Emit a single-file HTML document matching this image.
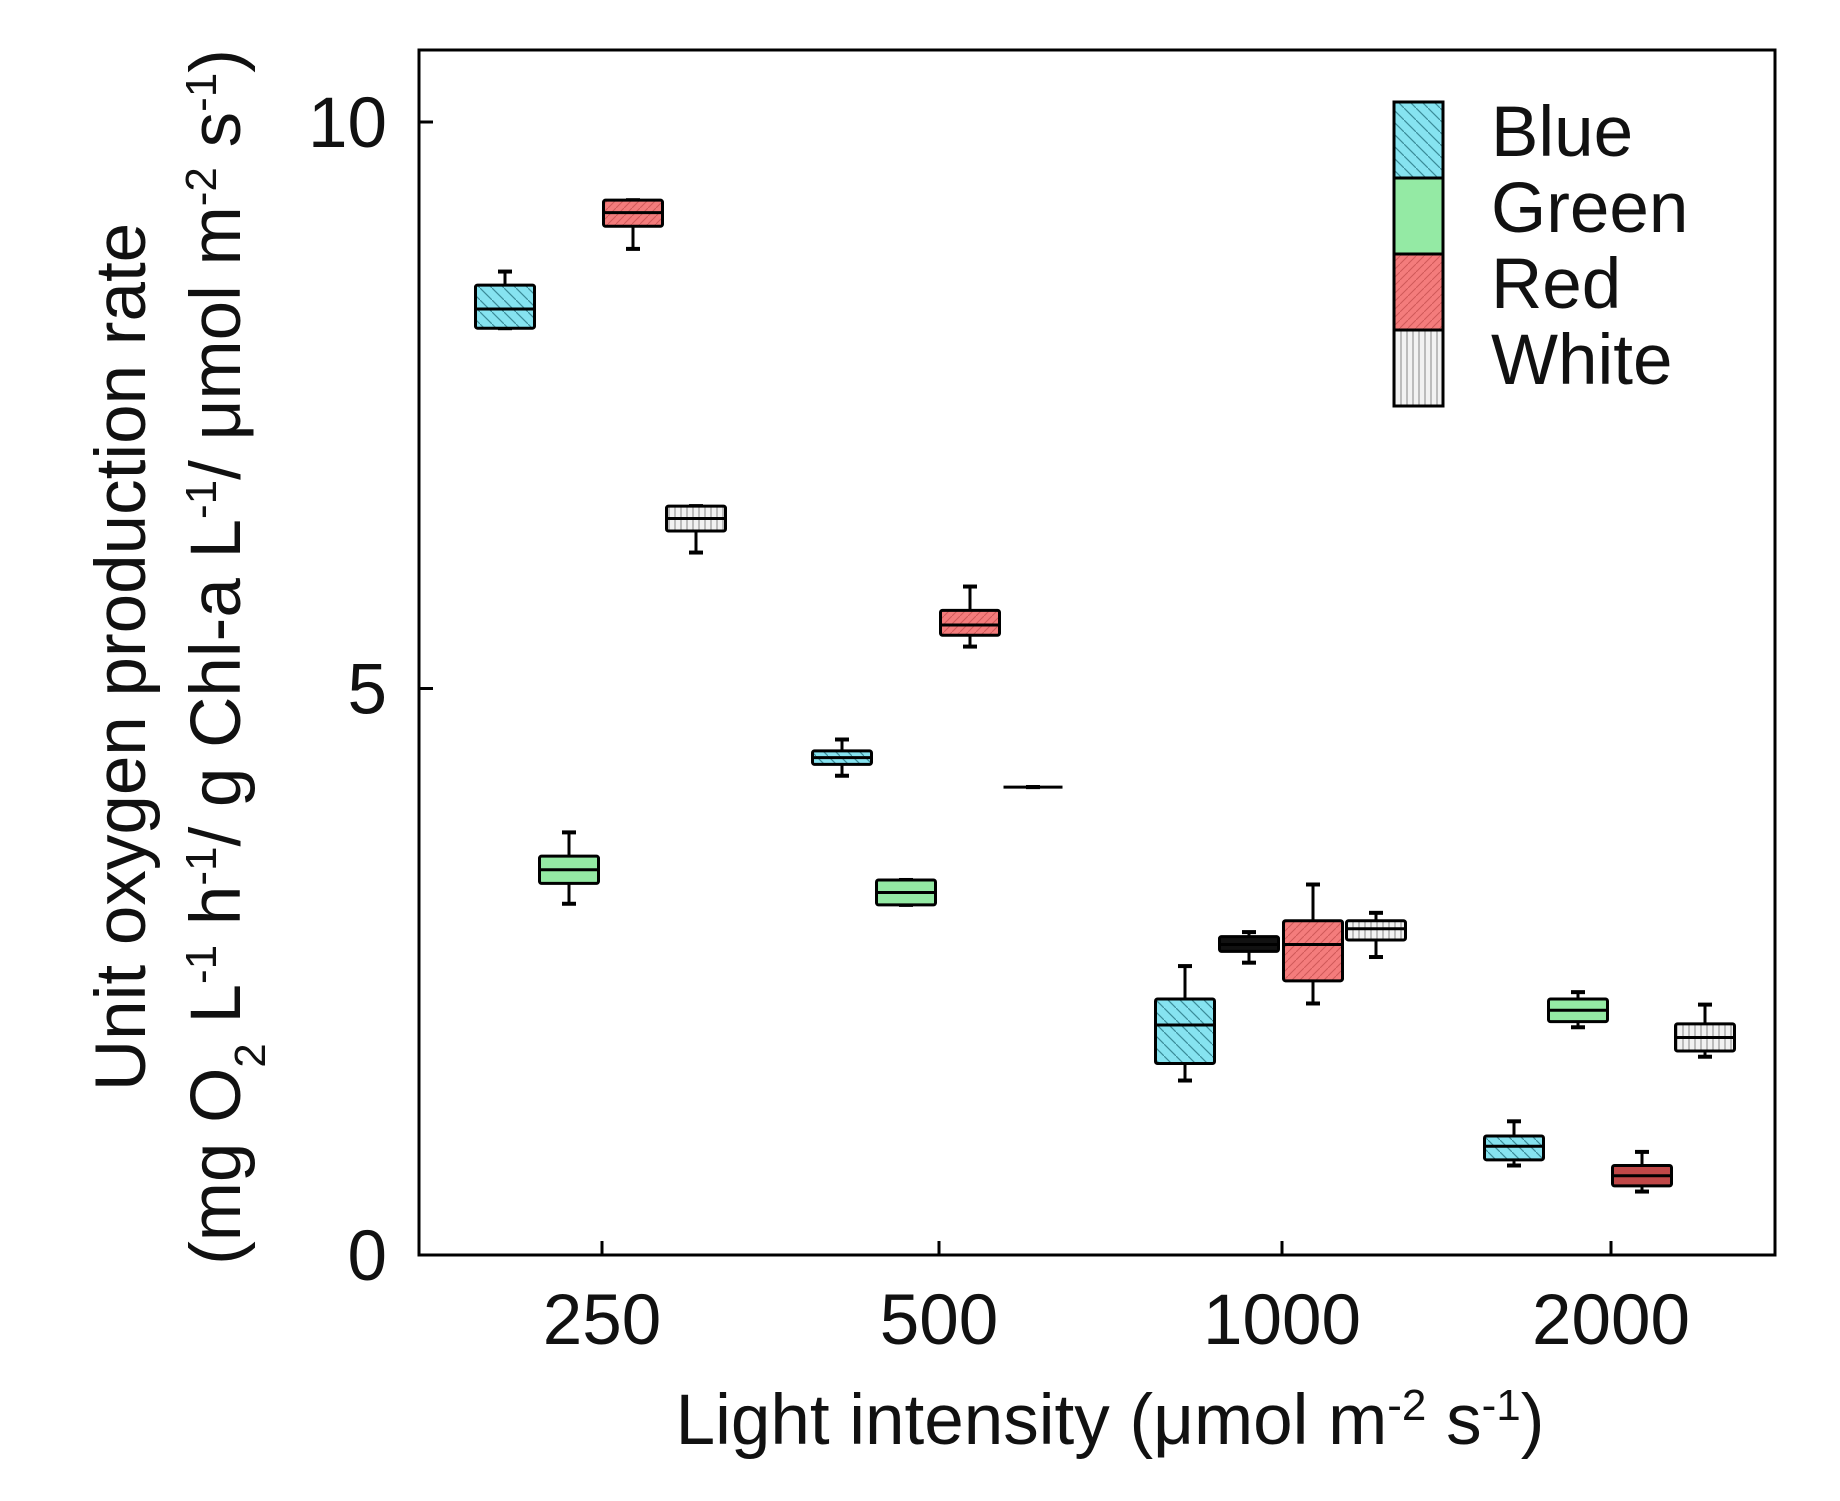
<!DOCTYPE html>
<html><head><meta charset="utf-8"><style>
html,body{margin:0;padding:0;background:#fff;}
svg{display:block;font-family:"Liberation Sans",sans-serif;}
</style></head><body>
<svg id="chart" width="1840" height="1501" viewBox="0 0 1840 1501" xmlns="http://www.w3.org/2000/svg">
<defs>
<pattern id="pBlue" width="12" height="12" patternUnits="userSpaceOnUse"><rect width="12" height="12" fill="#86e3f0"/><path d="M0,0 L12,12" stroke="#3a8b98" stroke-width="1.2"/></pattern>
<pattern id="pGreen" width="12" height="12" patternUnits="userSpaceOnUse"><rect width="12" height="12" fill="#94eaa4"/></pattern>
<pattern id="pRed" width="8" height="8" patternUnits="userSpaceOnUse"><rect width="8" height="8" fill="#f47c7c"/><path d="M0,8 L8,0" stroke="#d05858" stroke-width="1"/></pattern>
<pattern id="pWhite" width="6" height="6" patternUnits="userSpaceOnUse"><rect width="6" height="6" fill="#f2f2f2"/><path d="M3,0 L3,6" stroke="#999" stroke-width="1.2"/></pattern>
</defs>
<g id="plot"></g>
</svg>
<script>
const categories = ["250","500","1000","2000"];
const seriesNames = ["Blue","Green","Red","White"];
const yTicks = [0,5,10];
// [whiskerLow, q1, median, q3, whiskerHigh] per category
const blueData  = [[8.18,8.18,8.35,8.56,8.68],[4.23,4.33,4.39,4.45,4.55],[1.54,1.69,2.03,2.26,2.55],[0.79,0.84,0.96,1.05,1.18]];
const greenData = [[3.10,3.28,3.40,3.52,3.73],[3.09,3.09,3.20,3.31,3.31],[2.58,2.68,2.74,2.81,2.85],[2.01,2.06,2.16,2.26,2.32]];
const redData   = [[8.88,9.08,9.20,9.31,9.31],[5.37,5.47,5.56,5.69,5.90],[2.22,2.42,2.74,2.95,3.27],[0.56,0.61,0.70,0.79,0.91]];
const whiteData = [[6.20,6.39,6.50,6.61,6.61],[4.13,4.13,4.13,4.13,4.13],[2.63,2.78,2.88,2.95,3.02],[1.75,1.80,1.92,2.04,2.21]];

const NS="http://www.w3.org/2000/svg";
const g=document.getElementById('plot');
const L=419,R=1775,T=50,B=1255;
const y0=1255, pxPerUnit=113.3;
function yScale(v){return y0 - v*pxPerUnit;}
const catX=[602,939,1282,1611];
function xScale(ci){return catX[ci];}
const offsets=[-97,-33,31,94];
const boxW=59;
const FS=71;
function mk(tag,attrs){const e=document.createElementNS(NS,tag);for(const k in attrs)e.setAttribute(k,attrs[k]);g.appendChild(e);return e;}

let fr=mk('rect',{x:L,y:T,width:R-L,height:B-T,fill:'none',stroke:'#000','stroke-width':3});



yTicks.forEach(v=>{
  const y=yScale(v);
  const t=mk('line',{x1:L,x2:L+14,y1:y,y2:y,stroke:'#000','stroke-width':3});
  
  
  const tx=mk('text',{x:387,y:y+25,'font-size':FS,'text-anchor':'end',fill:'#111'});
  tx.textContent=v;
  
  
});
categories.forEach((c,i)=>{
  const x=xScale(i);
  const t=mk('line',{x1:x,x2:x,y1:B,y2:B-14,stroke:'#000','stroke-width':3});
  
  
  const tx=mk('text',{x:x,y:1344,'font-size':FS,'text-anchor':'middle',fill:'#111'});
  tx.textContent=c;
  
  
});

const allSeries=[blueData,greenData,redData,whiteData];
const fills=['url(#pBlue)','url(#pGreen)','url(#pRed)','url(#pWhite)'];
allSeries.forEach((ser,si)=>{
  ser.forEach((d,ci)=>{
    const cx=xScale(ci)+offsets[si];
    let f=fills[si];
    if(si===1&&ci===2) f='#111';
    if(si===2&&ci===3) f='#c04848';
    const wl=mk('line',{x1:cx,x2:cx,y1:yScale(d[0]),y2:yScale(d[4]),stroke:'#000','stroke-width':3});
    
    
    [d[0],d[4]].forEach(v=>{
      const cap=mk('line',{x1:cx-7,x2:cx+7,y1:yScale(v),y2:yScale(v),stroke:'#000','stroke-width':4});
      
      
    });
    const h=Math.max(yScale(d[1])-yScale(d[3]),0);
    const b=mk('rect',{x:cx-boxW/2,y:yScale(d[3]),width:boxW,height:h,fill:f,stroke:'#000','stroke-width':3,rx:2});
    
    
    const m=mk('line',{x1:cx-boxW/2,x2:cx+boxW/2,y1:yScale(d[2]),y2:yScale(d[2]),stroke:'#000','stroke-width':3});
    
    
  });
});

seriesNames.forEach((n,i)=>{
  const y=102+i*76;
  const r=mk('rect',{x:1394,y:y,width:49,height:76,fill:fills[i],stroke:'#000','stroke-width':3});
  
  
  const t=mk('text',{x:1491,y:y+54,'font-size':FS,fill:'#111'});
  t.textContent=n;
  
  
});

const xt=mk('text',{x:1110,y:1444,'font-size':FS,'text-anchor':'middle',fill:'#111'});
xt.innerHTML='Light intensity (μmol m<tspan baseline-shift="super" font-size="44">-2</tspan> s<tspan baseline-shift="super" font-size="44">-1</tspan>)';


const yt1=mk('text',{x:0,y:0,'font-size':FS,'text-anchor':'middle',fill:'#111',transform:'translate(145,657) rotate(-90)'});
yt1.textContent='Unit oxygen production rate';


const yt2=mk('text',{x:0,y:0,'font-size':FS,'text-anchor':'middle',fill:'#111',transform:'translate(240,657) rotate(-90)'});
yt2.innerHTML='(mg O<tspan baseline-shift="sub" font-size="44">2</tspan> L<tspan baseline-shift="super" font-size="44">-1</tspan> h<tspan baseline-shift="super" font-size="44">-1</tspan>/ g Chl-a L<tspan baseline-shift="super" font-size="44">-1</tspan>/ μmol m<tspan baseline-shift="super" font-size="44">-2</tspan> s<tspan baseline-shift="super" font-size="44">-1</tspan>)';


</script>
</body></html>
